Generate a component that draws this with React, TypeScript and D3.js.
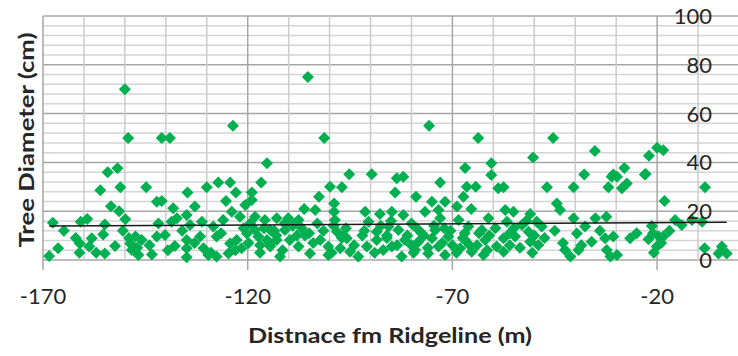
import React from 'react';
import * as d3 from 'd3';

// distance from ridgeline (m) and tree diameter (cm)
const distance = [
  -150, -149.2, -141, -139, -123.6, -105.3, -101.3, -75.7, -63.7, -115.3, -66.9, -60.5, -45.4, -50.3, -35.2, -22, -20, -18.5, -37.8, -28, -30.7, -23,
  -154.2, -151.8, -156, -151.1, -144.8, -142.2, -153.4, -151.4, -149.9, -167.6, -164.9, -160.8, -159.2, -154.9, -155.3, -158.1, -161, -158.7, -161.1, -166.3, -168.5, -154.9, -152.4, -147.4, -148.7, -145.9, -148.3, -146.7, -143.4, -142.2,
  -134.7, -130, -127.2, -124.3, -122.9, -125.3, -119, -116.7, -141, -138.2, -132.9, -134.9, -137.3, -138.6, -141.8, -140.2, -131.2, -134.1, -131.6, -128.4, -127.6, -126, -123.9, -121.9, -120.6, -119, -118.2, -115.8, -118.2, -115.3, -117.4, -137.8, -134.9, -134.9, -134.9, -130.8, -129.6, -127.6, -124.7, -124.3, -122.7, -121.5, -120.2, -119.4, -114.5,
  -95.2, -89.7, -99.9, -97, -102.6, -98.9, -106.2, -103.5, -98.9, -91.3, -87.7, -112.9, -110.1, -107.6, -98.7, -90.5, -114.5, -110.9, -106.8, -98.2, -88.5, -112.9, -109.7, -102.3, -95.8, -107.6, -104.8, -112.1, -100.3, -100.3, -97.4, -95, -93, -90.9, -88.5, -86.9, -114.5,
  -60.5, -83.6, -82, -73, -84, -78.9, -66.5, -64.3, -67.3, -75, -71.8, -76.7, -73.4, -68.9, -65.4, -84.8, -82, -78.7, -73, -68.5, -61.2, -85.6, -83.2, -74.2, -66.1, -62.8, -81.6, -78.3, -75, -71, -66.9, -62, -84.8, -82.4, -79.1, -75.9, -73.4, -71.8, -68.1, -65.3, -62.4, -59.2, -58.8,
  -31.1, -57.5, -46.9, -40.4, -31.9, -44.5, -43.7, -57.1, -55.1, -51, -40.4, -35.1, -32.4, -53, -49.4, -48.2, -37.6, -56.7, -51.4, -54.7, -57.5, -39.6, -51, -49, -36, -32.7, -30.7, -57.5, -42.5, -39.2, -41.2, -32.3, -31.4,
  -29.8, -27.4, -28.6, -22.8, -8.3, -18.2, -15.6, -14, -21.3, -11.5, -9, -26.6, -22.1, -19.6, -18.5, -20.1, -29.8, -8.4, -4.2, -3, -5,
  -111, -108, -105, -103, -99, -97, -92, -96, -85, -80, -77, -72, -70, -67, -64, -61, -80, -86, -117, -116, -113, -149, -147, -55, -52, -50, -56, -21, -19, -17,
  -162, -157, -150.5, -144, -139.5, -136, -133, -129, -126.5, -123, -121, -119.8, -117, -113.5, -111.5, -109, -106, -104, -101.5, -99.5, -96.5, -94, -91.5, -89, -87.5, -86, -83.5, -81, -79.5, -77.5, -76, -74.5, -72.5, -70.5, -69, -67.5, -65.8, -63.5, -61.5, -59.5, -56, -53.5, -50.5, -47.5, -45, -43, -38.5, -34, -25, -20.8,
];

const diameter = [
  70, 50, 50, 50, 55, 75, 50, 55, 50, 39.7, 37.7, 39.7, 50, 42, 44.7, 42.7, 46, 45, 35, 37.7, 35, 35,
  36, 37.6, 28.6, 29.8, 29.8, 23.9, 22, 20, 16.7, 15.3, 12, 15.7, 16.8, 14.6, 10.5, 8.9, 6.8, 5.5, 3, 4.8, 1.6, 2.7, 5.7, 9.6, 6.8, 8.2, 4.1, 2, 2.3, 9.6,
  27.7, 29.8, 31.8, 31.8, 27.7, 24.2, 27.7, 31.8, 24.2, 21.2, 21.9, 18.4, 17.1, 15.7, 15, 10.2, 15.7, 14.3, 9.6, 13.7, 9.6, 16.4, 19.8, 17.7, 22.5, 24.6, 17.7, 16.4, 12.3, 8.2, 9.6, 5.7, 8.2, 4.8, 1.1, 4.8, 2, 1.4, 2.7, 6.8, 8.2, 4.8, 10.9, 15, 5.5,
  35.1, 35.1, 30, 29.8, 25.9, 23.2, 20.9, 20.5, 19.8, 19.8, 18.9, 17.1, 17.1, 16.4, 16.4, 15.7, 12.3, 12.3, 13, 11.6, 11.6, 8.2, 8.2, 8.2, 8.9, 5.5, 2.7, 1.4, 5.5, 2, 4.8, 3.4, 1.4, 5.5, 8.2, 4.1, 6.8,
  34.8, 33.5, 34.1, 31.8, 27.7, 25.9, 30, 30, 25.9, 23.9, 23.9, 19.8, 20.5, 21.9, 20.9, 19.8, 18.4, 13, 17.1, 16.4, 17.1, 13.7, 12.3, 12.3, 13.7, 12.3, 8.2, 7.5, 8.9, 9.6, 8.2, 8.2, 5.5, 1.4, 4.1, 2.7, 5.5, 2, 4.8, 3.4, 2, 5.5, 29.4,
  34.1, 29.8, 29.8, 29.8, 29.8, 23.2, 20.5, 20.5, 19.8, 18.9, 17.1, 17.1, 17.7, 14.3, 15.7, 13.7, 13.7, 15.7, 11.6, 9.6, 8.9, 10.9, 7.5, 6.1, 7.5, 8.9, 9.6, 3.4, 4.1, 4.1, 1.4, 4.1, 1.4,
  34.1, 31.4, 29.4, 35.2, 29.8, 24.2, 16.4, 14.3, 13.9, 16.4, 15.7, 8.9, 8.5, 9.6, 9.6, 5.5, 2, 4.8, 5.5, 2.7, 2.7,
  15, 10, 11, 15, 14, 9, 10, 13, 16, 15, 10, 13, 6, 11, 6, 10, 6, 9, 6, 13, 10, 9, 5, 13, 16, 10, 6, 11, 7, 12,
  9, 3, 12, 6, 4, 12, 7, 3, 11, 4, 13, 7, 3, 12, 4, 14, 10, 7, 12, 3, 10, 6, 12, 3, 14, 10, 6, 10, 3, 11, 5, 14, 7, 12, 3, 9, 6, 11, 4, 13, 11, 5, 3, 9, 12, 7, 6, 12, 11, 3,
];

const xTicks = [-170, -120, -70, -20];
const yTicks = [0, 20, 40, 60, 80, 100];
// linear trendline as drawn in the reference, at the data's first and last distance
const trendEnds = [13.9, 15.5];

const W = 738;
const H = 356;
const left = 43;
const right = 739;
const top = 16;
const bottom = 260;

export default function App() {
  const x = d3.scaleLinear().domain([-170, 0]).range([left, right]);
  const y = d3.scaleLinear().domain([0, 100]).range([bottom, top]);

  const points = distance.map((d, i) => ({ d, t: diameter[i] }));
  const [x0, x1] = d3.extent(distance) as [number, number];

  const diamond = d3.symbol(d3.symbolSquare, 72)()!;

  const vGrid = d3.range(-170, 1, 10);
  const hGrid = d3.range(0, 101, 4);

  return (
    <svg
      width={W}
      height={H}
      style={{ position: 'fixed', left: 0, top: 0, background: '#fff' }}
      fontFamily="Lato, 'Open Sans', sans-serif"
    >
      {hGrid.map((v) => (
        <line
          key={'h' + v}
          x1={left}
          x2={right}
          y1={y(v)}
          y2={y(v)}
          stroke={v % 20 === 0 ? '#a6a6a6' : '#d4d4d4'}
          strokeWidth={1.5}
        />
      ))}
      {vGrid.map((v) => (
        <line
          key={'v' + v}
          x1={x(v)}
          x2={x(v)}
          y1={top}
          y2={bottom}
          stroke={(v + 170) % 50 === 0 ? '#a6a6a6' : '#cccccc'}
          strokeWidth={1.5}
        />
      ))}
      {xTicks.map((v) => (
        <line key={'t' + v} x1={x(v)} x2={x(v)} y1={bottom} y2={bottom + 10} stroke="#a6a6a6" strokeWidth={1.5} />
      ))}

      {points.map((p, i) => (
        <path
          key={i}
          d={diamond}
          transform={`translate(${x(p.d)},${y(p.t)}) rotate(45)`}
          fill="#00b050"
        />
      ))}

      <line
        x1={x(x0)}
        x2={x(x1)}
        y1={y(trendEnds[0])}
        y2={y(trendEnds[1])}
        stroke="#1a1a1a"
        strokeWidth={1.5}
      />

      {yTicks.map((v) => (
        <text key={'yl' + v} x={712} y={y(v)} dy="0.36em" textAnchor="end" fontSize={22} fill="#262626">
          {v}
        </text>
      ))}
      {xTicks.map((v) => (
        <text key={'xl' + v} x={x(v)} y={296} dy="0.36em" textAnchor="middle" fontSize={22} fill="#262626">
          {v}
        </text>
      ))}

      <text
        x={390}
        y={336}
        dy="0.36em"
        textAnchor="middle"
        fontSize={20}
        fontWeight="bold"
        fill="#262626"
        textLength={284}
        lengthAdjust="spacingAndGlyphs"
      >
        Distnace fm Ridgeline (m)
      </text>
      <text
        transform="translate(26,140) rotate(-90)"
        dy="0.36em"
        textAnchor="middle"
        fontSize={21}
        fontWeight="bold"
        fill="#262626"
        textLength={215}
        lengthAdjust="spacingAndGlyphs"
      >
        Tree Diameter (cm)
      </text>
    </svg>
  );
}
